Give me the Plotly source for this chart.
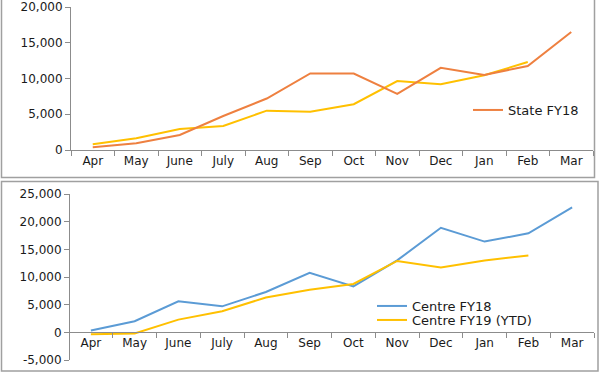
import plotly.graph_objects as go

months = ["Apr", "May", "June", "July", "Aug", "Sep", "Oct", "Nov", "Dec", "Jan", "Feb", "Mar"]
state_fy18 = [400, 950, 2100, 4750, 7200, 10700, 10700, 7850, 11500, 10500, 11750, 16500]
state_fy19 = [800, 1650, 2950, 3350, 5500, 5350, 6400, 9650, 9200, 10450, 12300]
centre_fy18 = [350, 2000, 5600, 4700, 7300, 10750, 8300, 13000, 18900, 16400, 17900, 22600]
centre_fy19 = [-350, -200, 2300, 3800, 6300, 7700, 8750, 12900, 11700, 13000, 13900]

top_ticks = [0, 5000, 10000, 15000, 20000]
top_ticktext = ["0", "5,000", "10,000", "15,000", "20,000"]
bot_ticks = [-5000, 0, 5000, 10000, 15000, 20000, 25000]
bot_ticktext = ["-5,000", "0", "5,000", "10,000", "15,000", "20,000", "25,000"]

ORANGE = "#EE8040"
YELLOW = "#FFC000"
BLUE = "#5B9BD5"
AXIS = "#8c8c8c"
FONT = dict(family="DejaVu Sans", size=12, color="#1a1a1a")
LEGFONT = dict(family="DejaVu Sans", size=13, color="#1a1a1a")

W, H = 599, 372
def px(x): return x / W
def py(y): return 1 - y / H

fig = go.Figure()
fig.add_trace(go.Scatter(x=months[:len(state_fy19)], y=state_fy19, mode="lines", name="State FY19",
                         line=dict(color=YELLOW, width=2), xaxis="x", yaxis="y", showlegend=False))
fig.add_trace(go.Scatter(x=months, y=state_fy18, mode="lines", name="State FY18",
                         line=dict(color=ORANGE, width=2), xaxis="x", yaxis="y", legend="legend"))
fig.add_trace(go.Scatter(x=months, y=centre_fy18, mode="lines", name="Centre FY18",
                         line=dict(color=BLUE, width=2), xaxis="x2", yaxis="y2", legend="legend2"))
fig.add_trace(go.Scatter(x=months[:len(centre_fy19)], y=centre_fy19, mode="lines", name="Centre FY19 (YTD)",
                         line=dict(color=YELLOW, width=2), xaxis="x2", yaxis="y2", legend="legend3"))

xcommon = dict(type="category", categoryorder="array", categoryarray=months,
               range=[-0.5, 11.5], showgrid=False, zeroline=False, showline=True, automargin=False,
               linecolor=AXIS, linewidth=1, ticks="outside", tickson="boundaries",
               ticklen=5, tickcolor=AXIS, tickfont=FONT, fixedrange=True)
ycommon = dict(showgrid=False, zeroline=False, showline=True, linecolor=AXIS, linewidth=1,
               automargin=False, ticks="outside", ticklen=5, tickcolor=AXIS, tickfont=FONT,
               fixedrange=True)

leg = dict(bgcolor="rgba(0,0,0,0)", borderwidth=0, font=LEGFONT, itemwidth=30,
           xanchor="left", yanchor="middle")

fig.update_layout(
    width=W, height=H, margin=dict(l=0, r=0, t=0, b=0, autoexpand=False),
    paper_bgcolor="white", plot_bgcolor="white",
    xaxis=dict(xcommon, domain=[px(71), px(593)], anchor="y"),
    yaxis=dict(ycommon, domain=[py(150), py(7)], range=[0, 20000], anchor="x",
               tickvals=top_ticks, ticktext=top_ticktext),
    xaxis2=dict(xcommon, domain=[px(69), px(594)], anchor="free", position=py(332)),
    yaxis2=dict(ycommon, domain=[py(360), py(194)], range=[-5000, 25000], anchor="free",
                position=px(69), tickvals=bot_ticks, ticktext=bot_ticktext),
    legend=dict(leg, x=px(468), y=py(110)),
    legend2=dict(leg, x=px(372), y=py(306)),
    legend3=dict(leg, x=px(372), y=py(320)),
    shapes=[
        dict(type="rect", xref="paper", yref="paper", x0=px(1.5), x1=px(594.5), y0=py(177.5), y1=py(-3),
             line=dict(color="#a0a0a0", width=1.5), fillcolor="rgba(0,0,0,0)", layer="below"),
        dict(type="rect", xref="paper", yref="paper", x0=px(1.5), x1=px(598), y0=py(371), y1=py(181.5),
             line=dict(color="#a0a0a0", width=1.5), fillcolor="rgba(0,0,0,0)", layer="below"),
    ],
    showlegend=True,
)

fig.write_html("out.html", config={"displayModeBar": False},
               post_script="document.body.style.margin='0';document.body.style.overflow='hidden';")
